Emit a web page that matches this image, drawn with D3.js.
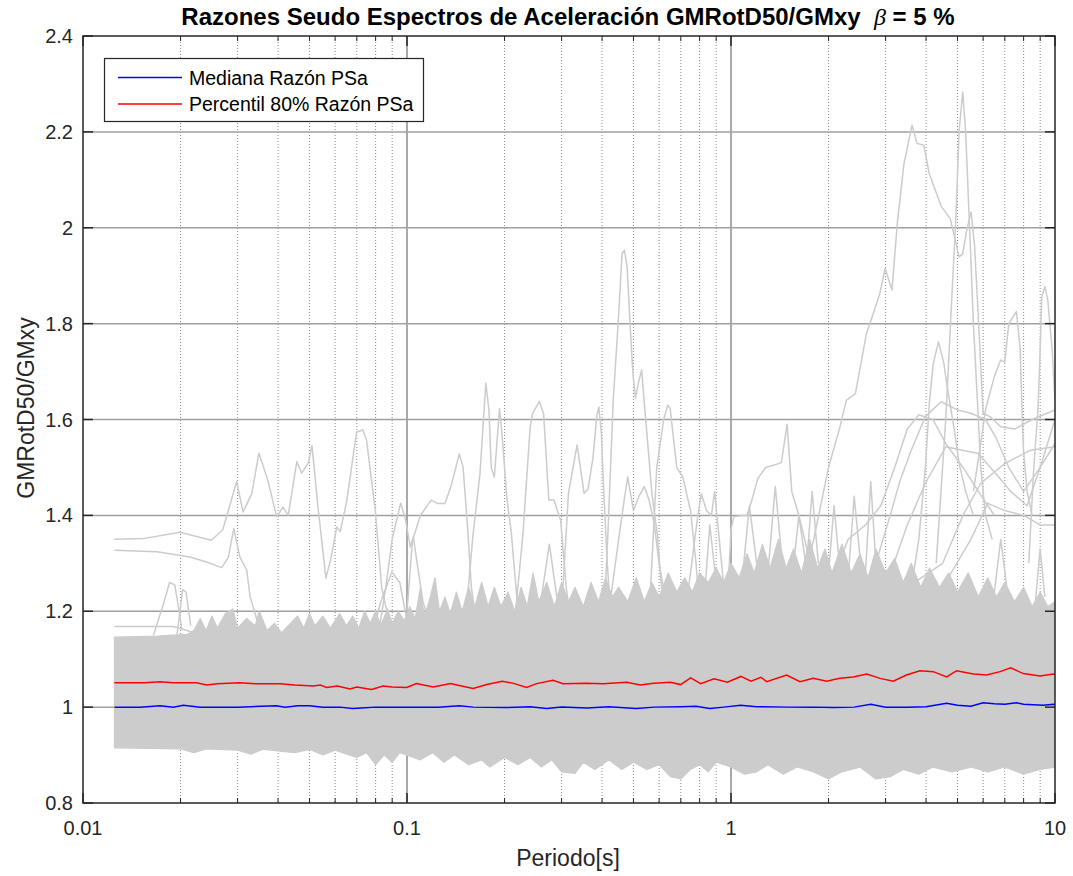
<!DOCTYPE html>
<html>
<head>
<meta charset="utf-8">
<script src="https://cdn.jsdelivr.net/npm/d3@7"></script>
<style>
  body { margin: 0; background: #ffffff; }
  svg { display: block; font-family: "Liberation Sans", Arial, Helvetica, sans-serif; }
</style>
</head>
<body>
<svg id="chart" width="1073" height="876"></svg>
<script>
// ---------- data: period [s], ratio GMRotD50/GMxy ----------
const xTickValues = [0.01, 0.1, 1, 10];
const xTickLabels = ["0.01", "0.1", "1", "10"];
const yTickValues = [0.8, 1, 1.2, 1.4, 1.6, 1.8, 2, 2.2, 2.4];
const yTickLabels = ["0.8", "1", "1.2", "1.4", "1.6", "1.8", "2", "2.2", "2.4"];
const minorPeriods = [0.02, 0.03, 0.04, 0.05, 0.06, 0.07, 0.08, 0.09,
                      0.2, 0.3, 0.4, 0.5, 0.6, 0.7, 0.8, 0.9,
                      2, 3, 4, 5, 6, 7, 8, 9];

// dense body of the individual record ratios
const bandPeriods = [0.0125, 0.015, 0.02, 0.03, 0.04, 0.05, 0.07, 0.1, 0.15, 0.2, 0.3, 0.5, 0.7, 1, 1.5, 2, 3, 5, 7, 10];
const bandLow  = [0.918, 0.918, 0.92, 0.922, 0.924, 0.925, 0.924, 0.922, 0.918, 0.914, 0.91, 0.905, 0.902, 0.9, 0.898, 0.895, 0.892, 0.89, 0.886, 0.882];
const bandHigh = [1.145, 1.146, 1.148, 1.15, 1.152, 1.155, 1.158, 1.165, 1.175, 1.18, 1.19, 1.2, 1.21, 1.225, 1.23, 1.225, 1.215, 1.2, 1.19, 1.18];

// ragged upper and lower fringe of the records
const fringeTop = [[0.0125,1.146],[0.017,1.148],[0.019,1.15],[0.021,1.152],[0.022,1.16],[0.023,1.185],[0.024,1.16],[0.025,1.19],[0.026,1.165],[0.0275,1.195],[0.029,1.205],[0.030,1.165],[0.032,1.185],[0.034,1.17],[0.035,1.2],[0.037,1.16],[0.039,1.175],[0.041,1.155],[0.043,1.17],[0.046,1.19],[0.048,1.165],[0.050,1.195],[0.052,1.17],[0.055,1.19],[0.058,1.165],[0.062,1.195],[0.065,1.17],[0.068,1.19],[0.071,1.165],[0.074,1.2],[0.077,1.175],[0.080,1.2],[0.083,1.17],[0.087,1.205],[0.090,1.175],[0.094,1.2],[0.098,1.18],[0.102,1.21],[0.106,1.185],[0.110,1.25],[0.113,1.19],[0.117,1.22],[0.122,1.27],[0.126,1.2],[0.131,1.23],[0.136,1.195],[0.142,1.24],[0.148,1.2],[0.155,1.25],[0.162,1.21],[0.170,1.26],[0.178,1.21],[0.186,1.25],[0.195,1.21],[0.205,1.24],[0.215,1.2],[0.225,1.25],[0.235,1.21],[0.245,1.28],[0.255,1.22],[0.27,1.26],[0.285,1.21],[0.30,1.26],[0.315,1.22],[0.33,1.25],[0.35,1.21],[0.37,1.26],[0.39,1.22],[0.41,1.27],[0.43,1.23],[0.45,1.25],[0.48,1.22],[0.51,1.27],[0.54,1.22],[0.57,1.26],[0.60,1.23],[0.64,1.28],[0.68,1.24],[0.72,1.27],[0.76,1.24],[0.80,1.28],[0.85,1.26],[0.90,1.29],[0.95,1.26],[1.0,1.3],[1.06,1.27],[1.12,1.32],[1.18,1.28],[1.25,1.34],[1.32,1.29],[1.4,1.35],[1.48,1.29],[1.56,1.33],[1.65,1.28],[1.75,1.35],[1.85,1.29],[1.95,1.33],[2.05,1.28],[2.2,1.34],[2.35,1.28],[2.5,1.32],[2.65,1.27],[2.8,1.33],[3.0,1.28],[3.2,1.31],[3.4,1.26],[3.6,1.3],[3.85,1.25],[4.1,1.29],[4.4,1.25],[4.7,1.28],[5.0,1.24],[5.4,1.28],[5.8,1.23],[6.2,1.27],[6.6,1.23],[7.0,1.26],[7.5,1.22],[8.0,1.25],[8.5,1.21],[9.0,1.24],[9.5,1.21],[10,1.22]];
const fringeBottom = [[0.0125,0.915],[0.02,0.913],[0.022,0.905],[0.024,0.913],[0.03,0.91],[0.033,0.902],[0.036,0.912],[0.045,0.905],[0.05,0.912],[0.055,0.9],[0.06,0.91],[0.07,0.895],[0.075,0.905],[0.08,0.88],[0.085,0.9],[0.09,0.885],[0.095,0.905],[0.1,0.9],[0.11,0.89],[0.12,0.905],[0.13,0.885],[0.14,0.9],[0.155,0.88],[0.17,0.89],[0.18,0.875],[0.2,0.895],[0.22,0.88],[0.24,0.895],[0.26,0.875],[0.28,0.89],[0.3,0.865],[0.33,0.862],[0.35,0.885],[0.38,0.87],[0.42,0.89],[0.46,0.87],[0.5,0.885],[0.55,0.87],[0.6,0.88],[0.65,0.855],[0.7,0.85],[0.75,0.87],[0.8,0.88],[0.85,0.865],[0.9,0.885],[1.0,0.875],[1.1,0.86],[1.2,0.865],[1.3,0.88],[1.45,0.86],[1.6,0.875],[1.8,0.865],[2.0,0.85],[2.2,0.865],[2.5,0.875],[2.8,0.85],[3.1,0.855],[3.4,0.87],[3.8,0.86],[4.2,0.875],[4.8,0.865],[5.5,0.875],[6.2,0.865],[7.0,0.875],[8.0,0.86],[9.0,0.87],[10,0.875]];

// records that stand out above the body
const outlierCurves = [
  [[0.0125,1.168],[0.019,1.168],[0.021,1.16],[0.023,1.15]],
  [[0.0165,1.15],[0.0178,1.22],[0.0185,1.26],[0.0192,1.255],[0.0198,1.2],[0.0202,1.16]],
  [[0.0195,1.15],[0.0203,1.245],[0.0208,1.24],[0.0215,1.17]],
  [[0.0125,1.35],[0.0155,1.352],[0.0199,1.365],[0.0249,1.348],[0.027,1.37],[0.0298,1.47],[0.0312,1.407],[0.0332,1.446],[0.0349,1.53],[0.0372,1.473],[0.0396,1.397],[0.0414,1.417],[0.043,1.40],[0.0457,1.512],[0.0473,1.488],[0.0496,1.509],[0.0509,1.546],[0.0531,1.418],[0.0562,1.269],[0.0584,1.314],[0.0607,1.376],[0.0622,1.366],[0.0651,1.428],[0.0699,1.574],[0.0731,1.578],[0.075,1.557],[0.0798,1.411],[0.0836,1.248],[0.088,1.18],[0.092,1.15]],
  [[0.0125,1.3275],[0.0169,1.324],[0.0214,1.313],[0.0247,1.30],[0.0268,1.291],[0.0281,1.313],[0.0292,1.373],[0.0305,1.313],[0.032,1.286],[0.0328,1.23],[0.0352,1.16],[0.038,1.12]],
  [[0.078,1.15],[0.083,1.22],[0.0898,1.282],[0.095,1.26],[0.1,1.18],[0.104,1.14]],
  [[0.082,1.16],[0.086,1.25],[0.09,1.35],[0.0956,1.426],[0.099,1.39],[0.1024,1.334],[0.1046,1.355],[0.1071,1.307],[0.112,1.22],[0.118,1.17]],
  [[0.1,1.2],[0.104,1.348],[0.11,1.40],[0.1168,1.425],[0.119,1.432],[0.124,1.425],[0.131,1.425],[0.137,1.463],[0.145,1.528],[0.149,1.50],[0.154,1.37],[0.158,1.25],[0.163,1.18]],
  [[0.15,1.15],[0.16,1.362],[0.168,1.487],[0.1751,1.676],[0.179,1.62],[0.182,1.50],[0.186,1.48],[0.193,1.623],[0.197,1.56],[0.203,1.44],[0.21,1.362],[0.22,1.2],[0.23,1.15]],
  [[0.215,1.18],[0.228,1.362],[0.24,1.585],[0.244,1.612],[0.256,1.638],[0.264,1.612],[0.274,1.432],[0.284,1.432],[0.298,1.39],[0.31,1.25],[0.32,1.18]],
  [[0.26,1.23],[0.275,1.34],[0.29,1.23]],
  [[0.3,1.2],[0.315,1.446],[0.335,1.547],[0.352,1.446],[0.362,1.455],[0.375,1.52],[0.385,1.606],[0.391,1.626],[0.398,1.571],[0.405,1.446],[0.415,1.3],[0.425,1.2]],
  [[0.405,1.18],[0.417,1.362],[0.433,1.64],[0.449,1.807],[0.461,1.946],[0.469,1.953],[0.478,1.918],[0.488,1.80],[0.498,1.696],[0.507,1.644],[0.52,1.682],[0.53,1.703],[0.537,1.654],[0.55,1.571],[0.57,1.446],[0.592,1.362],[0.61,1.25],[0.63,1.18]],
  [[0.42,1.2],[0.45,1.35],[0.47,1.44],[0.48,1.48],[0.5,1.41],[0.52,1.44],[0.54,1.46],[0.56,1.43],[0.58,1.38],[0.6,1.3],[0.63,1.22]],
  [[0.56,1.2],[0.59,1.50],[0.62,1.60],[0.638,1.63],[0.649,1.623],[0.68,1.50],[0.71,1.48],[0.75,1.41],[0.78,1.3],[0.8,1.2]],
  [[0.74,1.25],[0.79,1.40],[0.81,1.445],[0.84,1.41],[0.87,1.40],[0.89,1.45],[0.92,1.35],[0.96,1.22]],
  [[0.83,1.24],[0.86,1.38],[0.9,1.26]],
  [[0.98,1.25],[1.0,1.37],[1.02,1.397],[1.08,1.40],[1.12,1.40],[1.16,1.432],[1.21,1.477],[1.28,1.50],[1.36,1.505],[1.43,1.51],[1.49,1.59],[1.54,1.45],[1.62,1.40],[1.71,1.334],[1.8,1.25],[1.9,1.2]],
  [[1.08,1.26],[1.14,1.42],[1.2,1.3]],
  [[1.3,1.28],[1.37,1.46],[1.44,1.3]],
  [[1.55,1.28],[1.62,1.4],[1.7,1.3]],
  [[1.7,1.27],[1.78,1.45],[1.86,1.3]],
  [[2.0,1.28],[2.08,1.42],[2.16,1.3]],
  [[2.3,1.27],[2.4,1.44],[2.52,1.29]],
  [[2.6,1.28],[2.7,1.47],[2.8,1.3]],
  [[1.6,1.2],[1.8,1.35],[2.0,1.5],[2.17,1.585],[2.27,1.64],[2.42,1.654],[2.62,1.78],[2.77,1.828],[2.88,1.863],[2.99,1.915],[3.14,1.87],[3.26,2.009],[3.42,2.134],[3.62,2.214],[3.75,2.176],[3.94,2.172],[4.09,2.113],[4.46,2.044],[4.75,2.019],[5.06,1.939],[5.19,1.946],[5.34,1.995],[5.51,2.033],[5.65,1.96],[5.86,1.752],[6.0,1.613],[6.3,1.606],[6.8,1.585],[7.5,1.58],[8.5,1.6],[10,1.62]],
  [[4.3,1.3],[4.6,1.6],[4.8,1.85],[4.95,2.03],[5.06,2.203],[5.19,2.283],[5.3,2.2],[5.45,2.0],[5.6,1.8],[5.75,1.65],[5.9,1.5],[6.1,1.4],[6.4,1.35]],
  [[3.6,1.25],[3.8,1.35],[3.98,1.5],[4.1,1.64],[4.21,1.717],[4.37,1.762],[4.54,1.717],[4.62,1.68],[4.89,1.578],[5.06,1.508],[5.3,1.45],[5.6,1.4]],
  [[5.6,1.45],[5.9,1.55],[6.1,1.62],[6.5,1.69],[6.8,1.724],[7.0,1.72],[7.2,1.80],[7.6,1.825],[7.8,1.75],[7.98,1.543],[8.2,1.45],[8.5,1.4]],
  [[8.3,1.3],[8.6,1.5],[8.86,1.62],[9.0,1.745],[9.1,1.856],[9.31,1.877],[9.5,1.849],[9.8,1.745],[10,1.64]],
  [[2.8,1.3],[3.1,1.4],[3.33,1.474],[3.6,1.536],[3.98,1.606],[4.45,1.637],[5.0,1.62],[5.5,1.613],[6.1,1.60],[6.6,1.56],[7.2,1.5],[8.0,1.45],[9.0,1.5],[10,1.6]],
  [[3.0,1.25],[3.5,1.38],[3.98,1.467],[4.6,1.543],[5.8,1.529],[6.7,1.48],[7.3,1.45],[8.2,1.42],[9.0,1.5],[10,1.55]],
  [[3.5,1.25],[4.5,1.3],[5.2,1.4],[5.9,1.467],[7.0,1.508],[8.4,1.536],[10,1.543]],
  [[4.5,1.25],[5.5,1.35],[6.2,1.425],[7.0,1.41],[8.0,1.4],[9.0,1.38],[10,1.38]],
  [[6.5,1.24],[6.8,1.35],[7.1,1.25]],
  [[8.7,1.22],[9.0,1.33],[9.3,1.23]],
  [[2.0,1.25],[2.3,1.35],[2.6,1.38],[2.9,1.42],[3.2,1.5],[3.5,1.58],[3.8,1.61],[4.2,1.6],[4.6,1.55],[5.2,1.5],[5.8,1.45],[6.5,1.4]]
];

// median and 80th percentile of the ratio
const medianRatio = [[0.0125,1.000],[0.015,1.000],[0.0173,1.003],[0.019,1.000],[0.0204,1.004],[0.023,1.000],[0.03,1.000],[0.0395,1.003],[0.042,1.000],[0.046,1.003],[0.05,1.003],[0.055,1.000],[0.062,1.000],[0.068,0.997],[0.072,0.998],[0.08,1.000],[0.1,1.000],[0.125,1.000],[0.145,1.003],[0.16,1.000],[0.2,0.999],[0.24,1.001],[0.27,0.997],[0.3,1.000],[0.36,0.998],[0.42,1.001],[0.51,0.997],[0.58,1.000],[0.7,1.001],[0.78,1.002],[0.86,0.997],[0.95,1.000],[1.07,1.004],[1.2,1.001],[1.5,1.000],[1.8,1.000],[2.07,0.999],[2.4,1.000],[2.7,1.006],[3.0,1.000],[3.5,1.000],[4.0,1.001],[4.63,1.008],[5.0,1.004],[5.5,1.002],[6.0,1.009],[6.5,1.007],[7.0,1.006],[7.6,1.009],[8.0,1.006],[8.6,1.005],[9.2,1.004],[9.9,1.006],[10,1.005]];
const percentile80Ratio = [[0.0125,1.051],[0.0155,1.051],[0.0173,1.053],[0.019,1.051],[0.0224,1.051],[0.0241,1.046],[0.026,1.049],[0.0305,1.051],[0.034,1.049],[0.0406,1.049],[0.045,1.046],[0.0514,1.044],[0.054,1.046],[0.0565,1.041],[0.061,1.044],[0.0667,1.038],[0.07,1.042],[0.0777,1.037],[0.0844,1.044],[0.09,1.042],[0.0998,1.041],[0.107,1.049],[0.1205,1.042],[0.1364,1.049],[0.1425,1.046],[0.16,1.039],[0.1764,1.047],[0.1969,1.054],[0.2146,1.049],[0.234,1.041],[0.2513,1.049],[0.2823,1.056],[0.3032,1.049],[0.358,1.05],[0.4034,1.049],[0.4766,1.052],[0.5248,1.046],[0.5775,1.05],[0.6508,1.052],[0.699,1.047],[0.7507,1.061],[0.8063,1.049],[0.8868,1.059],[0.9754,1.052],[1.0728,1.064],[1.1523,1.054],[1.238,1.062],[1.289,1.053],[1.485,1.067],[1.633,1.053],[1.794,1.06],[1.974,1.054],[2.166,1.06],[2.385,1.063],[2.624,1.069],[2.884,1.06],[3.17,1.054],[3.48,1.067],[3.83,1.076],[4.21,1.074],[4.63,1.063],[4.97,1.076],[5.6,1.069],[6.15,1.067],[6.77,1.074],[7.3,1.082],[7.98,1.07],[8.99,1.065],[9.89,1.069],[10,1.068]];

const legendLabels = ["Mediana Razón PSa", "Percentil 80% Razón PSa"];
const legendColors = ["#0000ff", "#ff0000"];

// ---------- layout ----------
const svg = d3.select("#chart");
const plot = { left: 83, right: 1055, top: 36, bottom: 803 };
const x = d3.scaleLog().domain([0.01, 10]).range([plot.left, plot.right]);
const y = d3.scaleLinear().domain([0.8, 2.4]).range([plot.bottom, plot.top]);
const axisColor = "#262626";
const recordColor = "#cccccc";

svg.append("defs").append("clipPath").attr("id", "plotClip")
  .append("rect").attr("x", plot.left).attr("y", plot.top)
  .attr("width", plot.right - plot.left).attr("height", plot.bottom - plot.top);

// grid
const grid = svg.append("g");
grid.selectAll("line.minor").data(minorPeriods).join("line")
  .attr("x1", d => x(d)).attr("x2", d => x(d))
  .attr("y1", plot.top).attr("y2", plot.bottom)
  .attr("stroke", "#8c8c8c").attr("stroke-width", 1)
  .attr("stroke-dasharray", "1,2");
grid.selectAll("line.vmajor").data(xTickValues.slice(1, -1)).join("line")
  .attr("x1", d => x(d)).attr("x2", d => x(d))
  .attr("y1", plot.top).attr("y2", plot.bottom)
  .attr("stroke", "#8c8c8c").attr("stroke-width", 1.5);
grid.selectAll("line.hmajor").data(yTickValues.slice(1, -1)).join("line")
  .attr("x1", plot.left).attr("x2", plot.right)
  .attr("y1", d => y(d)).attr("y2", d => y(d))
  .attr("stroke", "#a0a0a0").attr("stroke-width", 1.5);

// records
const data = svg.append("g").attr("clip-path", "url(#plotClip)");
const bandRows = bandPeriods.map((p, i) => ({ p, lo: bandLow[i], hi: bandHigh[i] }));
data.append("path").datum(bandRows)
  .attr("d", d3.area().x(d => x(d.p)).y0(d => y(d.lo)).y1(d => y(d.hi)))
  .attr("fill", recordColor);
[fringeTop, fringeBottom].forEach(edge => {
  data.append("path").datum(edge)
    .attr("d", d3.area().x(d => x(d[0])).y0(y(1.0)).y1(d => y(d[1])))
    .attr("fill", recordColor).attr("stroke", recordColor)
    .attr("stroke-width", 1.2).attr("stroke-linejoin", "round");
});

const line = d3.line().x(d => x(d[0])).y(d => y(d[1]));
data.selectAll("path.outlier").data(outlierCurves).join("path")
  .attr("class", "outlier")
  .attr("d", line).attr("fill", "none")
  .attr("stroke", recordColor).attr("stroke-width", 1.5).attr("stroke-linejoin", "round");

data.append("path").datum(percentile80Ratio).attr("d", line)
  .attr("fill", "none").attr("stroke", legendColors[1]).attr("stroke-width", 1.5);
data.append("path").datum(medianRatio).attr("d", line)
  .attr("fill", "none").attr("stroke", legendColors[0]).attr("stroke-width", 1.5);

// axes box and ticks
const axes = svg.append("g");
axes.append("rect").attr("x", plot.left).attr("y", plot.top)
  .attr("width", plot.right - plot.left).attr("height", plot.bottom - plot.top)
  .attr("fill", "none").attr("stroke", axisColor).attr("stroke-width", 1.5);

const majorLen = 10, minorLen = 5;
[plot.bottom, plot.top].forEach((yy, k) => {
  const dir = k === 0 ? -1 : 1;
  axes.selectAll(null).data(xTickValues).join("line")
    .attr("x1", d => x(d)).attr("x2", d => x(d))
    .attr("y1", yy).attr("y2", yy + dir * majorLen)
    .attr("stroke", axisColor).attr("stroke-width", 1.5);
  axes.selectAll(null).data(minorPeriods).join("line")
    .attr("x1", d => x(d)).attr("x2", d => x(d))
    .attr("y1", yy).attr("y2", yy + dir * minorLen)
    .attr("stroke", axisColor).attr("stroke-width", 1);
});
[plot.left, plot.right].forEach((xx, k) => {
  const dir = k === 0 ? 1 : -1;
  axes.selectAll(null).data(yTickValues).join("line")
    .attr("x1", xx).attr("x2", xx + dir * majorLen)
    .attr("y1", d => y(d)).attr("y2", d => y(d))
    .attr("stroke", axisColor).attr("stroke-width", 1.5);
});

// tick labels
axes.selectAll("text.xt").data(xTickValues).join("text")
  .attr("x", d => x(d)).attr("y", plot.bottom + 32)
  .attr("text-anchor", "middle").attr("font-size", 20).attr("fill", axisColor)
  .text((d, i) => xTickLabels[i]);
axes.selectAll("text.yt").data(yTickValues).join("text")
  .attr("x", plot.left - 10).attr("y", d => y(d) + 7)
  .attr("text-anchor", "end").attr("font-size", 20).attr("fill", axisColor)
  .text((d, i) => yTickLabels[i]);

// axis labels and title
svg.append("text").attr("x", 568).attr("y", 866)
  .attr("text-anchor", "middle").attr("font-size", 23).attr("fill", axisColor)
  .text("Periodo[s]");
svg.append("text").attr("transform", "translate(34,408) rotate(-90)")
  .attr("text-anchor", "middle").attr("font-size", 23).attr("fill", axisColor)
  .text("GMRotD50/GMxy");
const title = svg.append("text").attr("x", 568).attr("y", 25)
  .attr("text-anchor", "middle").attr("font-size", 24).attr("font-weight", "bold").attr("fill", "#000");
title.append("tspan").text("Razones Seudo Espectros de Aceleración GMRotD50/GMxy\u00a0\u00a0");
title.append("tspan").attr("font-style", "italic").attr("font-weight", "normal")
  .attr("font-family", "'Liberation Serif', serif").text("β");
title.append("tspan").text(" = 5 %");

// legend
const legend = svg.append("g");
legend.append("rect").attr("x", 104.5).attr("y", 58.5).attr("width", 319).attr("height", 63)
  .attr("fill", "#ffffff").attr("stroke", axisColor).attr("stroke-width", 1.2);
legendLabels.forEach((lab, i) => {
  const ly = 77.5 + i * 26.5;
  legend.append("line").attr("x1", 118).attr("x2", 182).attr("y1", ly).attr("y2", ly)
    .attr("stroke", legendColors[i]).attr("stroke-width", 1.5);
  legend.append("text").attr("x", 189).attr("y", ly + 7).attr("font-size", 19.5)
    .attr("fill", "#000").text(lab);
});
</script>
</body>
</html>
